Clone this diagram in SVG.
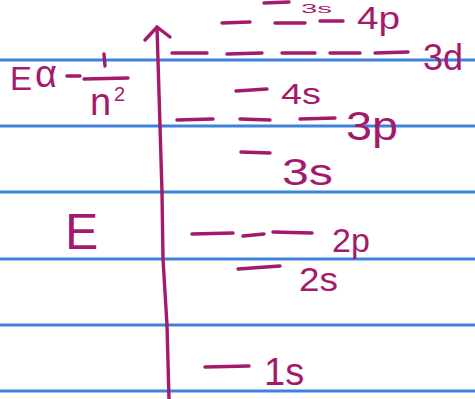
<svg xmlns="http://www.w3.org/2000/svg" width="475" height="399" viewBox="0 0 475 399">
<style>
.rule{stroke:#3d82dc;stroke-width:2.8}
.ink{stroke:#a31a6c;stroke-width:3.4;stroke-linecap:round;fill:none}
.lbl{fill:#a31a6c;font-family:"Liberation Sans",Arial,sans-serif}
</style>
<rect width="475" height="399" fill="#ffffff"/>
<g id="paper-lines">
<line class="rule" x1="0" y1="60" x2="475" y2="60"/>
<line class="rule" x1="0" y1="126" x2="475" y2="126"/>
<line class="rule" x1="0" y1="192" x2="475" y2="192"/>
<line class="rule" x1="0" y1="259" x2="475" y2="259"/>
<line class="rule" x1="0" y1="325" x2="475" y2="325"/>
<line class="rule" x1="0" y1="391" x2="475" y2="391"/>
</g>
<g id="connectors">
<path class="ink" d="M169 399 L167 325 L163 259 L162 192 L160 126 L158 60 L157 28"/>
<path class="ink" d="M145 40 L157 27 L170 37"/>
</g>
<g id="formula">
<text class="lbl" x="10" y="90" font-size="33">E</text>
<text class="lbl" x="35" y="87" font-size="38">α</text>
<path class="ink" d="M67 76 L80 76"/>
<path class="ink" d="M104 54 L105 66"/>
<path class="ink" d="M84 79 L128 78"/>
<text class="lbl" x="90" y="115" font-size="38">n</text>
<text class="lbl" x="114" y="101" font-size="20">2</text>
</g>
<g id="E-axis-label">
<text class="lbl" x="65" y="249" font-size="50">E</text>
</g>
<g id="level-3s-top">
<path class="ink" d="M264 3 L289 2"/>
<text class="lbl" x="301" y="13" font-size="12" textLength="31" lengthAdjust="spacingAndGlyphs">3s</text>
</g>
<g id="level-4p">
<path class="ink" d="M222 23 L250 22"/>
<path class="ink" d="M275 23 L305 23"/>
<path class="ink" d="M320 21 L343 21"/>
<text class="lbl" x="357" y="29" font-size="32" textLength="43" lengthAdjust="spacingAndGlyphs">4p</text>
</g>
<g id="level-3d">
<path class="ink" d="M172 53 L207 53"/>
<path class="ink" d="M227 54 L262 53"/>
<path class="ink" d="M282 53 L315 53"/>
<path class="ink" d="M330 53 L360 53"/>
<path class="ink" d="M375 53 L408 52"/>
<text class="lbl" x="423" y="70" font-size="36">3d</text>
</g>
<g id="level-4s">
<path class="ink" d="M236 91 L267 89"/>
<text class="lbl" x="281" y="104" font-size="30" textLength="40" lengthAdjust="spacingAndGlyphs">4s</text>
</g>
<g id="level-3p">
<path class="ink" d="M177 120 L213 119"/>
<path class="ink" d="M240 119 L270 120"/>
<path class="ink" d="M300 119 L335 118"/>
<text class="lbl" x="346" y="140" font-size="40" textLength="52" lengthAdjust="spacingAndGlyphs">3p</text>
</g>
<g id="level-3s">
<path class="ink" d="M241 152 L270 153"/>
<text class="lbl" x="282" y="185" font-size="37" textLength="51" lengthAdjust="spacingAndGlyphs">3s</text>
</g>
<g id="level-2p">
<path class="ink" d="M192 234 L233 233"/>
<path class="ink" d="M243 236 L264 234"/>
<path class="ink" d="M273 232 L312 233"/>
<text class="lbl" x="332" y="252" font-size="34">2p</text>
</g>
<g id="level-2s">
<path class="ink" d="M238 269 L280 266"/>
<text class="lbl" x="299" y="291" font-size="34" textLength="39" lengthAdjust="spacingAndGlyphs">2s</text>
</g>
<g id="level-1s">
<path class="ink" d="M205 367 L249 366"/>
<text class="lbl" x="264" y="385" font-size="38">1s</text>
</g>
</svg>
